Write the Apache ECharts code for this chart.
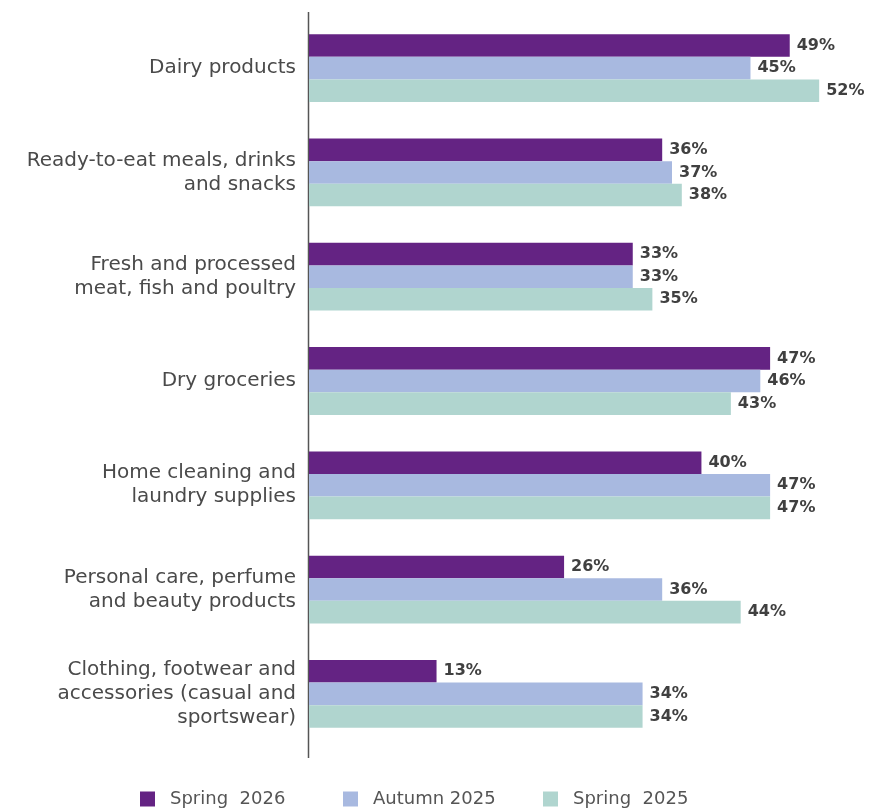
<!DOCTYPE html>
<html>
<head>
<meta charset="utf-8">
<script src="https://cdn.jsdelivr.net/npm/echarts@6/dist/echarts.min.js"></script>
<style>
  html, body { margin: 0; padding: 0; background: #ffffff; }
  #chart { width: 871px; height: 810px; }
</style>
</head>
<body>
<div id="chart"></div>
<script>
// Product categories (top to bottom)
const categories = [
  'Dairy products',
  'Ready-to-eat meals, drinks\nand snacks',
  'Fresh and processed\nmeat, fish and poultry',
  'Dry groceries',
  'Home cleaning and\nlaundry supplies',
  'Personal care, perfume\nand beauty products',
  'Clothing, footwear and\naccessories (casual and\nsportswear)'
];

// Share of respondents per wave, in percent
const spring2026 = [49, 36, 33, 47, 40, 26, 13];
const autumn2025 = [45, 37, 33, 46, 47, 36, 34];
const spring2025 = [52, 38, 35, 43, 47, 44, 34];

const seriesNames = ['Spring  2026', 'Autumn 2025', 'Spring  2025'];
const seriesColors = ['#642383', '#a8b9e0', '#b0d5cf'];

const FONT = '"DejaVu Sans", sans-serif';

const chart = echarts.init(document.getElementById('chart'));

function barSeries(name, data, color) {
  return {
    name: name,
    type: 'bar',
    data: data,
    barGap: '0%',
    barCategoryGap: '35%',
    itemStyle: { color: color },
    label: {
      show: true,
      position: 'right',
      distance: 7,
      formatter: '{c}%',
      color: '#404040',
      fontFamily: FONT,
      fontWeight: 'bold',
      fontSize: 16
    }
  };
}

// One legend block per series so each entry sits at its own column
const legendLefts = [135, 338, 538];
function legendFor(i) {
  return {
    top: 785,
    left: legendLefts[i],
    itemWidth: 15,
    itemHeight: 15,
    icon: 'rect',
    textStyle: {
      color: '#555555',
      fontFamily: FONT,
      fontSize: 18,
      padding: [0, 0, 0, 10]
    },
    data: [seriesNames[i]]
  };
}

chart.setOption({
  animation: false,
  backgroundColor: '#ffffff',
  grid: { left: 309, right: 22.4, top: 16, height: 730 },
  xAxis: {
    type: 'value',
    min: 0,
    max: 55,
    show: false
  },
  yAxis: {
    type: 'category',
    inverse: true,
    data: categories,
    axisLine: { show: false },
    axisTick: { show: false },
    axisLabel: {
      margin: 13,
      color: '#4a4a4a',
      fontFamily: FONT,
      fontSize: 20,
      lineHeight: 24,
      align: 'right'
    }
  },
  legend: [legendFor(0), legendFor(1), legendFor(2)],
  graphic: [{
    type: 'line',
    shape: { x1: 308.5, y1: 12, x2: 308.5, y2: 758 },
    style: { stroke: '#555555', lineWidth: 1.5 }
  }],
  series: [
    barSeries(seriesNames[0], spring2026, seriesColors[0]),
    barSeries(seriesNames[1], autumn2025, seriesColors[1]),
    barSeries(seriesNames[2], spring2025, seriesColors[2])
  ]
});
</script>
</body>
</html>
